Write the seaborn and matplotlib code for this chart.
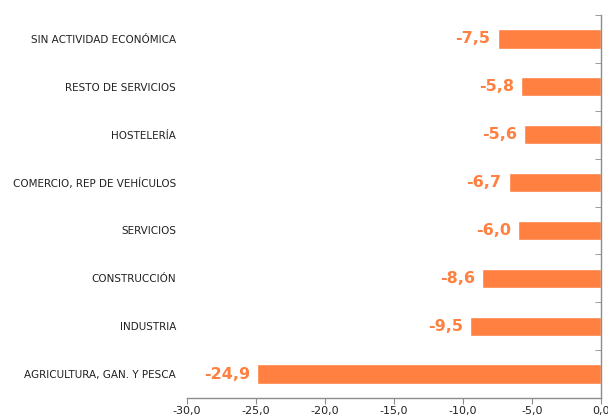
"""
Variación por sector de actividad - barras horizontales
"""

import matplotlib
matplotlib.use('Agg')
import matplotlib.pyplot as plt
import seaborn as sns
import pandas as pd
from matplotlib.ticker import FixedLocator, FuncFormatter

sectores = [
    'SIN ACTIVIDAD ECONÓMICA',
    'RESTO DE SERVICIOS',
    'HOSTELERÍA',
    'COMERCIO, REP DE VEHÍCULOS',
    'SERVICIOS',
    'CONSTRUCCIÓN',
    'INDUSTRIA',
    'AGRICULTURA, GAN. Y PESCA',
]
variacion = [-7.5, -5.8, -5.6, -6.7, -6.0, -8.6, -9.5, -24.9]

NARANJA = '#FF8040'
GRIS = '#8c8c8c'

df = pd.DataFrame({'sector': sectores, 'valor': variacion})

sns.set_style('white')
plt.rcParams['font.family'] = ['DejaVu Sans']

fig = plt.figure(figsize=(6.08, 4.18), dpi=100)
ax = fig.add_axes([187 / 608, 1 - 398 / 418, (601 - 187) / 608, (398 - 15) / 418])

sns.barplot(data=df, x='valor', y='sector', orient='h', color=NARANJA,
            saturation=1, width=0.4, ax=ax)

ax.set_xlim(-30, 0)
ax.set_ylim(len(sectores) - 0.5, -0.5)
ax.set_xlabel('')
ax.set_ylabel('')

# etiquetas de valor
for i, v in enumerate(variacion):
    ax.annotate(f'{v:.1f}'.replace('.', ','), xy=(v, i), xytext=(-5, 0),
                textcoords='offset points', ha='right', va='center',
                color=NARANJA, fontsize=11.5, fontweight='bold')

# ejes
for s in ['top', 'left']:
    ax.spines[s].set_visible(False)
for s in ['bottom', 'right']:
    ax.spines[s].set_visible(True)
    ax.spines[s].set_color(GRIS)
    ax.spines[s].set_linewidth(1)

ax.set_xticks(range(-30, 1, 5))
ax.xaxis.set_major_formatter(FuncFormatter(lambda x, p: f'{x:.1f}'.replace('.', ',')))
ax.tick_params(axis='x', direction='out', length=4, color=GRIS, labelsize=8,
               labelcolor='#222222', pad=2, bottom=True)

ax.tick_params(axis='y', which='major', length=0, labelsize=7.5, pad=8,
               labelcolor='#222222', left=False)
ax.yaxis.set_minor_locator(FixedLocator([i + 0.5 for i in range(-1, len(sectores))]))
ax.tick_params(axis='y', which='minor', direction='in', length=4, color=GRIS,
               right=True, left=False)

plt.savefig('out.png', dpi=100)
plt.close()
